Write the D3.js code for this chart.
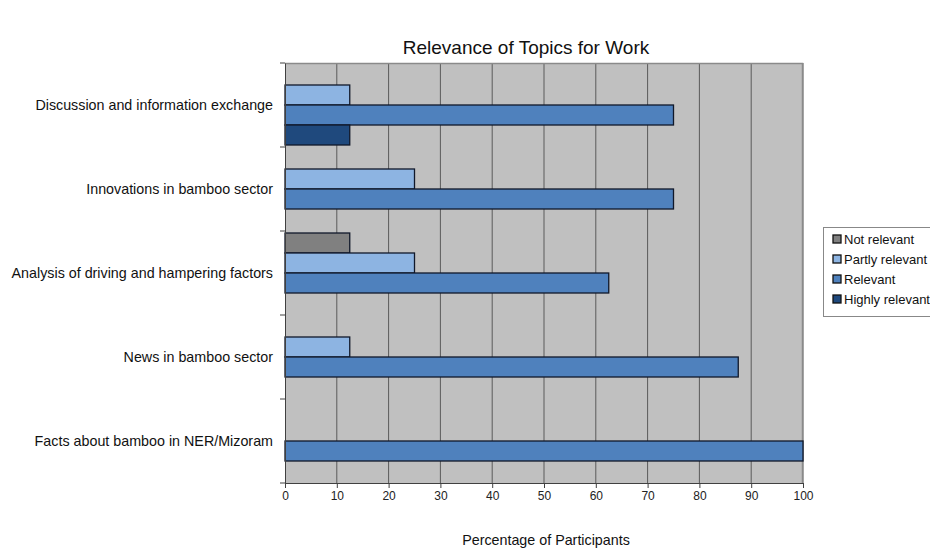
<!DOCTYPE html>
<html>
<head>
<meta charset="utf-8">
<script src="https://cdn.jsdelivr.net/npm/d3@7/dist/d3.min.js"></script>
<style>
  html, body { margin: 0; padding: 0; background: #fff; }
  svg { display: block; font-family: "Liberation Sans", Arial, sans-serif; }
</style>
</head>
<body>
<svg id="chart" width="930" height="549"></svg>
<script>
// Topics, top to bottom
const topics = [
  "Discussion and information exchange",
  "Innovations in bamboo sector",
  "Analysis of driving and hampering factors",
  "News in bamboo sector",
  "Facts about bamboo in NER/Mizoram"
];
// Response categories (legend order, also bar order inside each group)
const seriesNames = ["Not relevant", "Partly relevant", "Relevant", "Highly relevant"];
const seriesColors = ["#808080", "#8DB4E2", "#4F81BD", "#1F497D"];
// Percentages per topic, one array per response category
const notRelevant    = [0,    0,    12.5, 0,    0];
const partlyRelevant = [12.5, 25,   25,   12.5, 0];
const relevant       = [75,   75,   62.5, 87.5, 100];
const highlyRelevant = [12.5, 0,    0,    0,    0];
const xTicks = [0, 10, 20, 30, 40, 50, 60, 70, 80, 90, 100];

const seriesValues = [notRelevant, partlyRelevant, relevant, highlyRelevant];

const svg = d3.select("#chart");
const plot = { left: 285, right: 803, top: 63, bottom: 483 };

const x = d3.scaleLinear().domain([0, 100]).range([plot.left, plot.right]);
const y = d3.scaleBand().domain(topics).range([plot.top, plot.bottom]).paddingInner(0).paddingOuter(0);
const inner = d3.scaleBand().domain(seriesNames).range([2, y.bandwidth() - 2]);

// Plot background
svg.append("rect")
  .attr("x", plot.left).attr("y", plot.top)
  .attr("width", plot.right - plot.left).attr("height", plot.bottom - plot.top)
  .attr("fill", "#C0C0C0");

// Vertical gridlines
svg.append("g").selectAll("line")
  .data(xTicks.slice(1))
  .join("line")
  .attr("x1", d => x(d)).attr("x2", d => x(d))
  .attr("y1", plot.top).attr("y2", plot.bottom)
  .attr("stroke", "#5a5a5a").attr("stroke-width", 1);

// Plot border (top and right)
svg.append("path")
  .attr("d", `M${plot.left},${plot.top + 0.5}H${plot.right - 0.5}V${plot.bottom}`)
  .attr("fill", "none").attr("stroke", "#8a8a8a").attr("stroke-width", 1.5);

// Bars
const rows = topics.map((t, i) => ({ topic: t, values: seriesNames.map((s, j) => ({ s, j, v: seriesValues[j][i] })) }));
svg.append("g").selectAll("g")
  .data(rows)
  .join("g")
  .attr("transform", d => `translate(0,${y(d.topic)})`)
  .selectAll("rect")
  .data(d => d.values.filter(e => e.v > 0))
  .join("rect")
  .attr("x", x(0))
  .attr("y", d => inner(d.s))
  .attr("width", d => x(d.v) - x(0))
  .attr("height", inner.bandwidth())
  .attr("fill", d => seriesColors[d.j])
  .attr("stroke", "#10182a").attr("stroke-width", 1.3);

// X axis
const xAxis = svg.append("g")
  .attr("transform", `translate(0,${plot.bottom})`)
  .call(d3.axisBottom(x).tickValues(xTicks).tickSize(5).tickPadding(3).tickFormat(d3.format("d")));
xAxis.select(".domain").attr("stroke", "#404040");
xAxis.selectAll(".tick line").attr("stroke", "#404040");
xAxis.selectAll("text").attr("font-size", 12).attr("fill", "#222")
  .attr("font-family", "Liberation Sans, Arial, sans-serif");

// Y axis
const yAxis = svg.append("g")
  .attr("transform", `translate(${plot.left},0)`)
  .call(d3.axisLeft(y).tickSize(0).tickPadding(12));
yAxis.select(".domain").attr("stroke", "#404040");
yAxis.selectAll("text").attr("font-size", 14.3).attr("fill", "#111")
  .attr("font-family", "Liberation Sans, Arial, sans-serif");
// Group boundary ticks on the y axis
svg.append("g").selectAll("line")
  .data(d3.range(topics.length + 1))
  .join("line")
  .attr("x1", plot.left - 5).attr("x2", plot.left)
  .attr("y1", i => plot.top + i * y.step()).attr("y2", i => plot.top + i * y.step())
  .attr("stroke", "#404040");

// Title
svg.append("text")
  .attr("x", 526).attr("y", 54)
  .attr("text-anchor", "middle")
  .attr("font-size", 19).attr("fill", "#111")
  .text("Relevance of Topics for Work");

// X axis title
svg.append("text")
  .attr("x", 546).attr("y", 545)
  .attr("text-anchor", "middle")
  .attr("font-size", 14.3).attr("fill", "#111")
  .text("Percentage of Participants");

// Legend
const legend = svg.append("g").attr("transform", "translate(823,227)");
legend.append("rect")
  .attr("x", 0.5).attr("y", 0.5).attr("width", 120).attr("height", 89)
  .attr("fill", "#fff").attr("stroke", "#888");
const item = legend.selectAll("g.item")
  .data(seriesNames)
  .join("g").attr("class", "item")
  .attr("transform", (d, i) => `translate(10,${12 + i * 20})`);
item.append("rect")
  .attr("x", 0).attr("y", -4).attr("width", 8).attr("height", 8)
  .attr("fill", (d, i) => seriesColors[i])
  .attr("stroke", "#111").attr("stroke-width", 1.3);
item.append("text")
  .attr("x", 11).attr("y", 5)
  .attr("font-size", 13).attr("fill", "#111")
  .text(d => d);
</script>
</body>
</html>
